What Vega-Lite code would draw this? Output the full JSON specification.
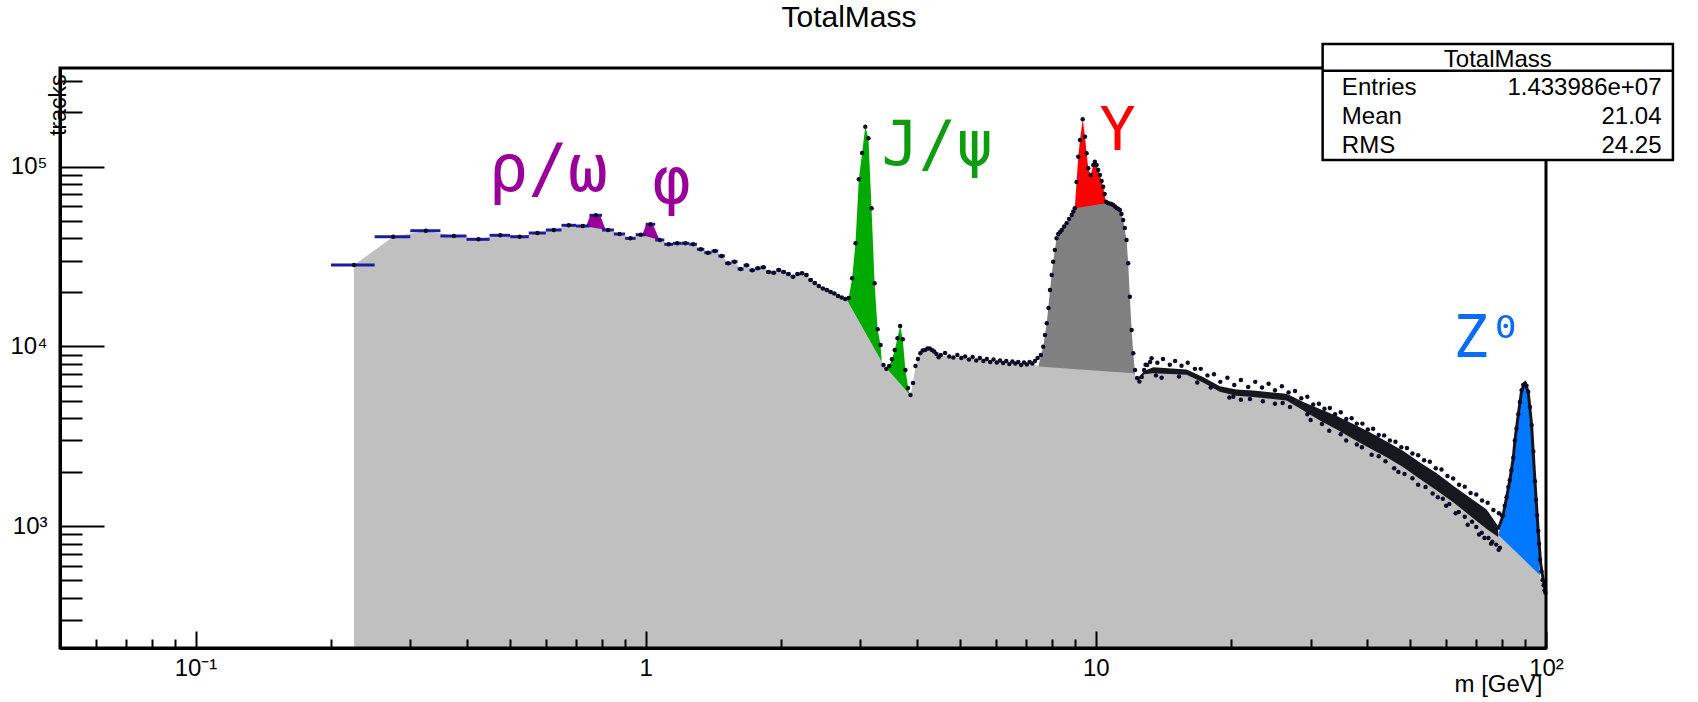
{
  "$schema": "https://vega.github.io/schema/vega-lite/v6.json",
  "width": 1486,
  "height": 580,
  "autosize": "none",
  "padding": {"left": 60, "top": 68, "right": 152, "bottom": 54},
  "background": "white",
  "config": {"view": {"stroke": null}},
  "title": {"text": "TotalMass", "font": "Liberation Sans", "fontSize": 30, "fontWeight": "normal", "color": "black", "anchor": "middle", "frame": "group", "offset": 12.75, "dy": 27, "baseline": "alphabetic", "dx": 46},
  "resolve": {"scale": {"color": "independent", "size": "independent"}},
  "datasets": {
    "pts": [
      {"m":0.225,"n":28370,"lo":0.2,"hi":0.25},{"m":0.275,"n":40740,"lo":0.25,"hi":0.3},{"m":0.325,"n":44000,"lo":0.3,"hi":0.35},{"m":0.375,"n":41110,"lo":0.35,"hi":0.4},
      {"m":0.425,"n":39410,"lo":0.4,"hi":0.45},{"m":0.475,"n":41480,"lo":0.45,"hi":0.5},{"m":0.525,"n":40740,"lo":0.5,"hi":0.55},{"m":0.575,"n":42720,"lo":0.55,"hi":0.6},
      {"m":0.625,"n":44400,"lo":0.6,"hi":0.65},{"m":0.675,"n":47150,"lo":0.65,"hi":0.7},{"m":0.725,"n":46730,"lo":0.7,"hi":0.75},{"m":0.775,"n":53600,"lo":0.75,"hi":0.8},
      {"m":0.825,"n":44400,"lo":0.8,"hi":0.85},{"m":0.875,"n":42180,"lo":0.85,"hi":0.9},{"m":0.925,"n":39920,"lo":0.9,"hi":0.95},{"m":0.975,"n":41800,"lo":0.95,"hi":1.0},
      {"m":1.025,"n":47770,"lo":1.0,"hi":1.05},{"m":1.075,"n":39060,"lo":1.05,"hi":1.1},{"m":1.125,"n":36970,"lo":1.1,"hi":1.15},{"m":1.175,"n":37440,"lo":1.15,"hi":1.2},
      {"m":1.225,"n":37440,"lo":1.2,"hi":1.25},{"m":1.275,"n":36970,"lo":1.25,"hi":1.3},{"m":1.325,"n":34680,"lo":1.3,"hi":1.35},{"m":1.375,"n":33200,"lo":1.35,"hi":1.4},
      {"m":1.425,"n":33930,"lo":1.4,"hi":1.45},{"m":1.475,"n":31830,"lo":1.45,"hi":1.5},{"m":1.525,"n":28990,"lo":1.5,"hi":1.55},{"m":1.575,"n":29590,"lo":1.55,"hi":1.6},
      {"m":1.625,"n":26940,"lo":1.6,"hi":1.65},{"m":1.675,"n":28260,"lo":1.65,"hi":1.7},{"m":1.725,"n":26500,"lo":1.7,"hi":1.75},{"m":1.775,"n":27190,"lo":1.75,"hi":1.8},
      {"m":1.825,"n":27540,"lo":1.8,"hi":1.85},{"m":1.875,"n":25940,"lo":1.85,"hi":1.9},{"m":1.925,"n":25700,"lo":1.9,"hi":1.95},{"m":1.975,"n":26610,"lo":1.95,"hi":2.0},
      {"m":2.025,"n":25940,"lo":2.0,"hi":2.05},{"m":2.075,"n":25280,"lo":2.05,"hi":2.1},{"m":2.125,"n":24430,"lo":2.1,"hi":2.15},{"m":2.175,"n":25280,"lo":2.15,"hi":2.2},
      {"m":2.225,"n":25510,"lo":2.2,"hi":2.25},{"m":2.275,"n":24970,"lo":2.25,"hi":2.3},{"m":2.325,"n":23420,"lo":2.3,"hi":2.35},{"m":2.375,"n":22530,"lo":2.35,"hi":2.4},
      {"m":2.425,"n":21680,"lo":2.4,"hi":2.45},{"m":2.475,"n":21000,"lo":2.45,"hi":2.5},{"m":2.525,"n":20600,"lo":2.5,"hi":2.55},{"m":2.575,"n":20080,"lo":2.55,"hi":2.6},
      {"m":2.625,"n":19700,"lo":2.6,"hi":2.65},{"m":2.675,"n":19080,"lo":2.65,"hi":2.7},{"m":2.725,"n":18720,"lo":2.7,"hi":2.75},{"m":2.775,"n":18360,"lo":2.75,"hi":2.8},
      {"m":2.825,"n":18600},{"m":2.875,"n":23930},{"m":2.925,"n":37440},{"m":2.975,"n":85000},{"m":3.025,"n":119000},{"m":3.075,"n":166700},{"m":3.125,"n":143700},
      {"m":3.175,"n":58640},{"m":3.225,"n":22440},{"m":3.275,"n":12450},{"m":3.325,"n":10190},{"m":3.375,"n":7890},{"m":3.425,"n":7500},{"m":3.475,"n":7790},
      {"m":3.525,"n":8480},{"m":3.575,"n":9560},{"m":3.625,"n":11100},{"m":3.675,"n":12990},{"m":3.725,"n":10960},{"m":3.775,"n":7400},{"m":3.825,"n":5870},
      {"m":3.875,"n":5370},{"m":3.925,"n":6260},{"m":3.975,"n":7790},{"m":4.025,"n":8510},{"m":4.075,"n":9160},{"m":4.125,"n":9500},{"m":4.175,"n":9560},
      {"m":4.225,"n":9730},{"m":4.275,"n":9730},{"m":4.325,"n":9560},{"m":4.375,"n":9370},{"m":4.425,"n":9080},{"m":4.475,"n":8700},{"m":4.525,"n":8960},
      {"m":4.625,"n":9190},{"m":4.725,"n":8790},{"m":4.825,"n":8680},{"m":4.925,"n":8960},{"m":5.025,"n":8630},{"m":5.125,"n":8790},{"m":5.225,"n":8460},
      {"m":5.325,"n":8730},{"m":5.425,"n":8350},{"m":5.525,"n":8630},{"m":5.625,"n":8300},{"m":5.725,"n":8510},{"m":5.825,"n":8200},{"m":5.925,"n":8460},
      {"m":6.025,"n":8140},{"m":6.125,"n":8350},{"m":6.225,"n":8090},{"m":6.325,"n":8300},{"m":6.425,"n":7990},{"m":6.525,"n":8250},{"m":6.625,"n":8040},
      {"m":6.725,"n":8200},{"m":6.825,"n":7890},{"m":6.925,"n":8140},{"m":7.025,"n":7940},{"m":7.125,"n":8200},{"m":7.225,"n":8040},{"m":7.325,"n":8300},
      {"m":7.425,"n":8630},{"m":7.55,"n":8960},{"m":7.64,"n":9960},{"m":7.71,"n":11570},{"m":7.78,"n":13450},{"m":7.85,"n":16350},{"m":7.91,"n":20600},
      {"m":7.98,"n":24970},{"m":8.04,"n":29590},{"m":8.11,"n":34380},{"m":8.18,"n":39920},{"m":8.25,"n":42180},{"m":8.33,"n":43270},{"m":8.4,"n":44400},
      {"m":8.5,"n":46440},{"m":8.61,"n":48380},{"m":8.72,"n":51120},{"m":8.84,"n":53810},{"m":8.91,"n":56290},{"m":8.98,"n":58640},{"m":9.06,"n":82120},
      {"m":9.14,"n":113500},{"m":9.22,"n":140600},{"m":9.35,"n":183300},{"m":9.46,"n":146700},{"m":9.54,"n":118600},{"m":9.62,"n":97900},{"m":9.74,"n":89800},
      {"m":9.87,"n":102100},{"m":9.95,"n":106500},{"m":10.04,"n":102100},{"m":10.12,"n":95700},{"m":10.21,"n":89800},{"m":10.3,"n":83170},{"m":10.38,"n":77300},
      {"m":10.46,"n":70410},{"m":10.53,"n":63800},{"m":10.63,"n":62750},{"m":10.73,"n":62350},{"m":10.83,"n":61950},{"m":10.93,"n":61150},{"m":11.03,"n":59990},
      {"m":11.13,"n":58770},{"m":11.22,"n":58090},{"m":11.31,"n":57370},{"m":11.4,"n":54510},{"m":11.5,"n":50470},{"m":11.6,"n":45540},{"m":11.7,"n":39060},
      {"m":11.8,"n":28990},{"m":11.9,"n":18900},{"m":12.01,"n":12340},{"m":12.11,"n":9160},{"m":12.22,"n":7400},{"m":12.35,"n":6680},{"m":12.5,"n":6380},
      {"m":12.65,"n":6760},{"m":12.8,"n":7400},{"m":13.0,"n":7890},{"m":13.2,"n":8200},
      {"m":12.9,"n":7900},{"m":13.3,"n":8600},{"m":13.7,"n":8100},{"m":14.1,"n":8500},{"m":14.6,"n":7900},{"m":15.0,"n":8300},{"m":15.5,"n":7800},
      {"m":16.0,"n":8100},{"m":16.6,"n":7500},{"m":17.1,"n":7500},{"m":17.7,"n":6900},{"m":18.3,"n":7000},{"m":18.9,"n":6350},{"m":19.6,"n":6700},
      {"m":20.3,"n":6100},{"m":21.0,"n":6500},{"m":21.8,"n":5950},{"m":22.6,"n":6350},{"m":23.4,"n":5900},{"m":24.2,"n":6200},{"m":25.0,"n":5700},
      {"m":25.9,"n":6000},{"m":26.8,"n":5550},{"m":27.7,"n":5650},{"m":28.6,"n":5150},{"m":29.5,"n":5250},{"m":30.4,"n":4750},{"m":31.3,"n":4800},
      {"m":32.2,"n":4500},{"m":33.1,"n":4550},{"m":34.0,"n":4200},{"m":35.0,"n":4300},{"m":36.0,"n":3950},{"m":37.0,"n":3980},{"m":38.0,"n":3720},
      {"m":39.1,"n":3720},{"m":40.2,"n":3450},{"m":41.3,"n":3480},{"m":42.5,"n":3220},{"m":43.7,"n":3200},{"m":45.0,"n":3000},{"m":46.3,"n":2950},
      {"m":47.7,"n":2750},{"m":49.1,"n":2720},{"m":50.5,"n":2540},{"m":52.0,"n":2480},{"m":53.6,"n":2330},{"m":55.2,"n":2280},{"m":56.9,"n":2100},
      {"m":58.6,"n":2070},{"m":60.4,"n":1900},{"m":62.2,"n":1840},{"m":64.1,"n":1700},{"m":66.0,"n":1660},{"m":68.0,"n":1530},{"m":70.0,"n":1500},
      {"m":72.1,"n":1390},{"m":74.2,"n":1350},{"m":76.4,"n":1230},{"m":78.6,"n":1180},{"m":79.8,"n":1150},
      {"m":13.6,"n":6900},{"m":14.0,"n":6700},{"m":15.3,"n":6800},{"m":16.8,"n":6300},{"m":18.0,"n":5900},{"m":19.8,"n":5200},{"m":20.2,"n":5250},
      {"m":21.0,"n":5050},{"m":22.0,"n":5100},{"m":23.5,"n":4950},{"m":25.0,"n":4800},{"m":26.0,"n":4850},{"m":27.0,"n":4600},{"m":29.5,"n":4200},
      {"m":30.0,"n":3900},{"m":31.8,"n":3700},{"m":33.0,"n":3400},{"m":35.0,"n":3250},{"m":36.0,"n":3000},{"m":38.0,"n":2850},{"m":39.0,"n":2750},
      {"m":41.0,"n":2500},{"m":42.5,"n":2450},{"m":44.0,"n":2300},{"m":46.0,"n":2100},{"m":47.0,"n":2000},{"m":48.5,"n":1950},{"m":50.5,"n":1850},
      {"m":52.0,"n":1700},{"m":54.0,"n":1650},{"m":56.0,"n":1520},{"m":57.5,"n":1450},{"m":59.0,"n":1420},{"m":60.0,"n":1300},{"m":61.0,"n":1330},
      {"m":63.0,"n":1180},{"m":64.0,"n":1200},{"m":66.0,"n":1130},{"m":67.0,"n":1020},{"m":68.5,"n":1060},{"m":70.0,"n":990},{"m":71.0,"n":900},
      {"m":72.0,"n":920},{"m":73.0,"n":860},{"m":74.5,"n":860},{"m":75.5,"n":800},{"m":76.0,"n":820},{"m":77.5,"n":790},{"m":78.5,"n":740},{"m":79.0,"n":760},
      {"m":80.3,"n":1150},{"m":81.0,"n":1300},{"m":81.75,"n":1450},{"m":82.5,"n":1650},{"m":83.1,"n":1800},{"m":83.8,"n":2050},{"m":84.6,"n":2400},
      {"m":85.3,"n":3000},{"m":86.0,"n":3500},{"m":86.8,"n":4200},{"m":87.5,"n":4900},{"m":88.3,"n":5700},{"m":89.0,"n":6100},{"m":89.8,"n":6200},
      {"m":90.5,"n":6050},{"m":91.3,"n":5600},{"m":92.1,"n":4600},{"m":92.9,"n":3650},{"m":93.7,"n":2600},{"m":94.5,"n":1780},{"m":95.0,"n":1400},
      {"m":95.5,"n":1150},{"m":96.1,"n":940},{"m":96.5,"n":800},{"m":97.0,"n":650},{"m":97.7,"n":560},{"m":98.3,"n":500},{"m":98.8,"n":470},
      {"m":99.3,"n":440},{"m":99.7,"n":426}
    ],
    "bg": [
      {"m":0.225,"n":28370},{"m":0.275,"n":40740},{"m":0.325,"n":44000},{"m":0.375,"n":41110},{"m":0.425,"n":39410},{"m":0.475,"n":41480},
      {"m":0.525,"n":40740},{"m":0.575,"n":42720},{"m":0.625,"n":44400},{"m":0.675,"n":47150},{"m":0.725,"n":46730},{"m":0.825,"n":44400},
      {"m":0.875,"n":42180},{"m":0.925,"n":39920},{"m":0.975,"n":41800},{"m":1.075,"n":39060},{"m":1.125,"n":36970},{"m":1.175,"n":37440},
      {"m":1.225,"n":37440},{"m":1.275,"n":36970},{"m":1.325,"n":34680},{"m":1.375,"n":33200},{"m":1.425,"n":33930},{"m":1.475,"n":31830},
      {"m":1.525,"n":28990},{"m":1.575,"n":29590},{"m":1.625,"n":26940},{"m":1.675,"n":28260},{"m":1.725,"n":26500},{"m":1.775,"n":27190},
      {"m":1.825,"n":27540},{"m":1.875,"n":25940},{"m":1.925,"n":25700},{"m":1.975,"n":26610},{"m":2.025,"n":25940},{"m":2.075,"n":25280},
      {"m":2.125,"n":24430},{"m":2.175,"n":25280},{"m":2.225,"n":25510},{"m":2.275,"n":24970},{"m":2.325,"n":23420},{"m":2.375,"n":22530},
      {"m":2.425,"n":21680},{"m":2.475,"n":21000},{"m":2.525,"n":20600},{"m":2.575,"n":20080},{"m":2.625,"n":19700},{"m":2.675,"n":19080},
      {"m":2.725,"n":18720},{"m":2.775,"n":18360},{"m":2.795,"n":18290},{"m":3.344,"n":8230},{"m":3.43,"n":7560},{"m":3.85,"n":5440},
      {"m":3.875,"n":5370},{"m":3.925,"n":6260},{"m":3.975,"n":7790},{"m":4.025,"n":8510},{"m":4.075,"n":9160},{"m":4.175,"n":9560},
      {"m":4.275,"n":9730},{"m":4.375,"n":9370},{"m":4.475,"n":8700},{"m":4.625,"n":8900},{"m":5.0,"n":8600},{"m":5.5,"n":8450},
      {"m":6.0,"n":8200},{"m":6.5,"n":8050},{"m":7.0,"n":7950},{"m":7.3,"n":7950},{"m":7.45,"n":7720},{"m":12.11,"n":7090},
      {"m":12.35,"n":6500},{"m":12.5,"n":6250},{"m":12.65,"n":6600},{"m":12.8,"n":7100},{"m":13.0,"n":7300},{"m":13.41,"n":7240},
      {"m":14.5,"n":7250},{"m":15.91,"n":7090},{"m":17.3,"n":6450},{"m":18.86,"n":5725},{"m":20.5,"n":5450},{"m":22.37,"n":5370},
      {"m":24.4,"n":5255},{"m":26.53,"n":5150},{"m":28.9,"n":4530},{"m":31.46,"n":3986},{"m":34.3,"n":3553},{"m":37.31,"n":3150},
      {"m":40.6,"n":2796},{"m":44.26,"n":2491},{"m":48.2,"n":2192},{"m":52.48,"n":1887},{"m":57.2,"n":1627},{"m":62.22,"n":1401},
      {"m":67.8,"n":1182},{"m":73.81,"n":995},{"m":78.3,"n":895},{"m":96.9,"n":536},{"m":98.0,"n":480},{"m":99.0,"n":450},{"m":99.975,"n":426}
    ],
    "ucont": [
      {"m":7.45,"n":7720},{"m":7.64,"n":9960},{"m":7.78,"n":13450},{"m":7.91,"n":20600},{"m":8.04,"n":29590},{"m":8.18,"n":39920},
      {"m":8.4,"n":44400},{"m":8.61,"n":48380},{"m":8.84,"n":53810},{"m":8.98,"n":58640},{"m":10.53,"n":62500},{"m":10.93,"n":61150},
      {"m":11.31,"n":57370},{"m":11.5,"n":50470},{"m":11.7,"n":39060},{"m":11.8,"n":28990},{"m":11.9,"n":18900},{"m":12.01,"n":12340},
      {"m":12.11,"n":9160},{"m":12.2,"n":7400}
    ],
    "peaks": [
      {"peak":"rho","m":0.736,"n":45800},{"peak":"rho","m":0.752,"n":53120},{"peak":"rho","m":0.793,"n":53120},{"peak":"rho","m":0.816,"n":44200},
      {"peak":"phi","m":0.98,"n":40700},{"peak":"phi","m":1.001,"n":47340},{"peak":"phi","m":1.039,"n":47340},{"peak":"phi","m":1.075,"n":38900},
      {"peak":"jpsi","m":2.795,"n":18290},{"peak":"jpsi","m":2.825,"n":18600},{"peak":"jpsi","m":2.875,"n":23930},{"peak":"jpsi","m":2.925,"n":37440},
      {"peak":"jpsi","m":2.975,"n":85000},{"peak":"jpsi","m":3.025,"n":119000},{"peak":"jpsi","m":3.075,"n":166700},{"peak":"jpsi","m":3.125,"n":143700},
      {"peak":"jpsi","m":3.175,"n":58640},{"peak":"jpsi","m":3.225,"n":22440},{"peak":"jpsi","m":3.275,"n":12450},{"peak":"jpsi","m":3.325,"n":10190},
      {"peak":"jpsi","m":3.344,"n":8230},
      {"peak":"psi2s","m":3.43,"n":7560},{"peak":"psi2s","m":3.475,"n":7790},{"peak":"psi2s","m":3.525,"n":8480},{"peak":"psi2s","m":3.575,"n":9560},
      {"peak":"psi2s","m":3.625,"n":11100},{"peak":"psi2s","m":3.675,"n":12990},{"peak":"psi2s","m":3.725,"n":10960},{"peak":"psi2s","m":3.775,"n":7400},
      {"peak":"psi2s","m":3.85,"n":5440},
      {"peak":"ups","m":8.98,"n":58640},{"peak":"ups","m":9.06,"n":82120},{"peak":"ups","m":9.14,"n":113500},{"peak":"ups","m":9.22,"n":140600},
      {"peak":"ups","m":9.35,"n":183300},{"peak":"ups","m":9.46,"n":146700},{"peak":"ups","m":9.54,"n":118600},{"peak":"ups","m":9.62,"n":97900},
      {"peak":"ups","m":9.74,"n":89800},{"peak":"ups","m":9.87,"n":102100},{"peak":"ups","m":9.95,"n":106500},{"peak":"ups","m":10.04,"n":102100},
      {"peak":"ups","m":10.12,"n":95700},{"peak":"ups","m":10.21,"n":89800},{"peak":"ups","m":10.3,"n":83170},{"peak":"ups","m":10.38,"n":77300},
      {"peak":"ups","m":10.46,"n":70410},{"peak":"ups","m":10.53,"n":63800},
      {"peak":"z","m":78.3,"n":895},{"peak":"z","m":80.3,"n":1100},{"peak":"z","m":81.75,"n":1401},{"peak":"z","m":83.1,"n":1750},
      {"peak":"z","m":84.6,"n":2337},{"peak":"z","m":85.5,"n":3000},{"peak":"z","m":86.8,"n":4069},{"peak":"z","m":88.3,"n":5600},
      {"peak":"z","m":89.8,"n":6100},{"peak":"z","m":91.3,"n":5490},{"peak":"z","m":92.9,"n":3580},{"peak":"z","m":94.5,"n":1734},
      {"peak":"z","m":96.1,"n":915},{"peak":"z","m":96.9,"n":536}
    ],
    "band": [
      {"m":12.4,"top":6650,"bot":6400},{"m":12.8,"top":7300,"bot":7000},{"m":13.41,"top":7650,"bot":7100},{"m":15.91,"top":7450,"bot":6950},
      {"m":17.3,"top":6750,"bot":6300},{"m":18.86,"top":6000,"bot":5600},{"m":20.5,"top":5750,"bot":5320},{"m":22.37,"top":5680,"bot":5230},
      {"m":24.4,"top":5560,"bot":5110},{"m":26.53,"top":5450,"bot":5000},{"m":28.9,"top":4900,"bot":4400},{"m":31.46,"top":4480,"bot":3870},
      {"m":34.3,"top":4100,"bot":3450},{"m":37.31,"top":3700,"bot":3055},{"m":40.6,"top":3330,"bot":2710},{"m":44.26,"top":2960,"bot":2415},
      {"m":48.2,"top":2620,"bot":2125},{"m":52.48,"top":2260,"bot":1830},{"m":57.2,"top":1970,"bot":1580},{"m":62.22,"top":1680,"bot":1360},
      {"m":67.8,"top":1440,"bot":1145},{"m":73.81,"top":1240,"bot":965},{"m":78.3,"top":1000,"bot":870}
    ],
    "zline": [
      {"m":78.3,"n":960},{"m":80.3,"n":1150},{"m":81.75,"n":1450},{"m":83.1,"n":1800},{"m":84.6,"n":2400},{"m":85.3,"n":3000},
      {"m":86.8,"n":4200},{"m":88.3,"n":5700},{"m":89.8,"n":6200},{"m":91.3,"n":5600},{"m":92.9,"n":3650},{"m":94.5,"n":1780},
      {"m":96.1,"n":940},{"m":97.3,"n":620},{"m":98.6,"n":500},{"m":99.9,"n":430}
    ],
    "labels": [
      {"t":"ρ/ω","m":0.607,"n":73560},{"t":"φ","m":1.141,"n":62750},{"t":"J/ψ","m":4.447,"n":102100},
      {"t":"Υ","m":11.17,"n":123700},{"t":"Z⁰","m":74.44,"n":8765}
    ]
  },
  "layer": [
    {
      "data": {"name": "peaks"},
      "mark": {"type": "area", "interpolate": "linear"},
      "encoding": {
        "x": {"field": "m", "type": "quantitative", "scale": {"type": "log", "domain": [0.05, 100], "nice": false},
          "axis": {
            "values": [0.06,0.07,0.08,0.09,0.1,0.2,0.3,0.4,0.5,0.6,0.7,0.8,0.9,1,2,3,4,5,6,7,8,9,10,20,30,40,50,60,70,80,90,100],
            "labelExpr": "datum.value == 0.1 ? '10⁻¹' : datum.value == 1 ? '1' : datum.value == 10 ? '10' : datum.value == 100 ? '10²' : ''",
            "tickSize": {"condition": {"test": "datum.value == 0.1 || datum.value == 1 || datum.value == 10 || datum.value == 100", "value": -17}, "value": -9},
            "tickWidth": 2, "tickColor": "black", "domainWidth": 3, "domainColor": "black", "grid": false,
            "labelFont": "Liberation Sans", "labelFontSize": 24, "labelColor": "black", "labelBaseline": "alphabetic", "labelPadding": 44,
            "labelFlush": false, "labelOverlap": false, "labelBound": false,
            "title": "m [GeV]", "titleFont": "Liberation Sans", "titleFontSize": 24, "titleFontWeight": "normal", "titleColor": "black",
            "titleAlign": "right", "titleBaseline": "alphabetic", "titleX": 1482, "titleY": 43, "zindex": 1
          }
        },
        "y": {"field": "n", "type": "quantitative", "scale": {"type": "log", "domain": [210.2, 353500], "nice": false},
          "axis": {
            "values": [300,400,500,600,700,800,900,1000,2000,3000,4000,5000,6000,7000,8000,9000,10000,20000,30000,40000,50000,60000,70000,80000,90000,100000,200000,300000],
            "labelExpr": "datum.value == 1000 ? '10³' : datum.value == 10000 ? '10⁴' : datum.value == 100000 ? '10⁵' : ''",
            "tickSize": {"condition": {"test": "datum.value == 1000 || datum.value == 10000 || datum.value == 100000", "value": -44}, "value": -22},
            "tickWidth": 2, "tickColor": "black", "domainWidth": 3, "domainColor": "black", "grid": false,
            "labelFont": "Liberation Sans", "labelFontSize": 24, "labelColor": "black", "labelBaseline": "middle", "labelAlign": "right", "labelPadding": 57,
            "labelFlush": false, "labelOverlap": false, "labelBound": false,
            "title": "tracks", "titleFont": "Liberation Sans", "titleFontSize": 23, "titleFontWeight": "normal", "titleColor": "black",
            "titleAngle": 270, "titleAlign": "right", "titleBaseline": "alphabetic", "titleX": 5, "titleY": 6, "zindex": 1
          }
        },
        "y2": {"datum": 210.2},
        "color": {"field": "peak", "type": "nominal", "legend": null,
          "scale": {"domain": ["rho","phi","jpsi","psi2s","ups","z"], "range": ["#990099","#990099","#00aa00","#00aa00","#ff0000","#0078ff"]}}
      }
    },
    {
      "data": {"name": "ucont"},
      "mark": {"type": "area", "color": "#808080", "interpolate": "linear"},
      "encoding": {"x": {"field": "m", "type": "quantitative"}, "y": {"field": "n", "type": "quantitative"}, "y2": {"datum": 210.2}}
    },
    {
      "data": {"name": "bg"},
      "mark": {"type": "area", "color": "#c0c0c0", "interpolate": "linear"},
      "encoding": {"x": {"field": "m", "type": "quantitative"}, "y": {"field": "n", "type": "quantitative"}, "y2": {"datum": 210.2}}
    },
    {
      "data": {"name": "band"},
      "mark": {"type": "area", "color": "#17171f", "interpolate": "linear"},
      "encoding": {"x": {"field": "m", "type": "quantitative"}, "y": {"field": "top", "type": "quantitative"}, "y2": {"field": "bot"}}
    },
    {
      "data": {"name": "zline"},
      "mark": {"type": "line", "color": "#15151f", "strokeWidth": 3, "interpolate": "linear"},
      "encoding": {"x": {"field": "m", "type": "quantitative"}, "y": {"field": "n", "type": "quantitative"}}
    },
    {
      "data": {"name": "pts"},
      "transform": [{"filter": "isValid(datum.lo)"}],
      "mark": {"type": "rule", "color": "#1c1c9c", "strokeWidth": 3},
      "encoding": {"x": {"field": "lo", "type": "quantitative"}, "x2": {"field": "hi"}, "y": {"field": "n", "type": "quantitative"}}
    },
    {
      "data": {"name": "pts"},
      "mark": {"type": "point", "shape": "circle", "filled": true, "size": 20, "color": "#0c0c26", "opacity": 1},
      "encoding": {"x": {"field": "m", "type": "quantitative"}, "y": {"field": "n", "type": "quantitative"}}
    },
    {
      "data": {"name": "labels"},
      "mark": {"type": "text", "font": "DejaVu Sans Mono", "align": "center", "baseline": "alphabetic"},
      "encoding": {
        "x": {"field": "m", "type": "quantitative"}, "y": {"field": "n", "type": "quantitative"},
        "text": {"field": "t"},
        "color": {"field": "t", "type": "nominal", "legend": null, "scale": {"domain": ["ρ/ω","φ","J/ψ","Υ","Z⁰"], "range": ["#990099","#990099","#109c10","#ff0000","#0a6cf5"]}},
        "size": {"field": "t", "type": "nominal", "legend": null, "scale": {"domain": ["ρ/ω","φ","J/ψ","Υ","Z⁰"], "range": [66, 58, 60, 60, 60]}}
      }
    },
    {
      "data": {"values": [{}]},
      "mark": {"type": "rect", "filled": false, "stroke": "black", "strokeWidth": 3},
      "encoding": {"x": {"datum": 0.05}, "x2": {"datum": 100}, "y": {"datum": 210.2}, "y2": {"datum": 353500}}
    },
    {
      "data": {"values": [{}]},
      "mark": {"type": "rect", "fill": "white", "stroke": "black", "strokeWidth": 2.5},
      "encoding": {"x": {"datum": 31.9}, "x2": {"datum": 191.4}, "y": {"datum": 108800}, "y2": {"datum": 480800}}
    },
    {
      "data": {"values": [{}]},
      "mark": {"type": "rule", "stroke": "black", "strokeWidth": 2.5},
      "encoding": {"x": {"datum": 31.9}, "x2": {"datum": 191.4}, "y": {"datum": 341600}}
    },
    {
      "data": {"values": [{}]},
      "mark": {"type": "text", "text": "TotalMass", "font": "Liberation Sans", "fontSize": 24, "align": "center", "baseline": "alphabetic", "color": "black"},
      "encoding": {"x": {"datum": 78.15}, "y": {"datum": 356700}}
    },
    {
      "data": {"values": [{}]},
      "mark": {"type": "text", "text": ["Entries", "Mean", "RMS"], "lineHeight": 28.85, "font": "Liberation Sans", "fontSize": 24, "align": "left", "baseline": "alphabetic", "color": "black"},
      "encoding": {"x": {"datum": 35.2}, "y": {"datum": 250100}}
    },
    {
      "data": {"values": [{}]},
      "mark": {"type": "text", "text": ["1.433986e+07", "21.04", "24.25"], "lineHeight": 28.85, "font": "Liberation Sans", "fontSize": 24, "align": "right", "baseline": "alphabetic", "color": "black"},
      "encoding": {"x": {"datum": 180.6}, "y": {"datum": 250100}}
    }
  ]
}
